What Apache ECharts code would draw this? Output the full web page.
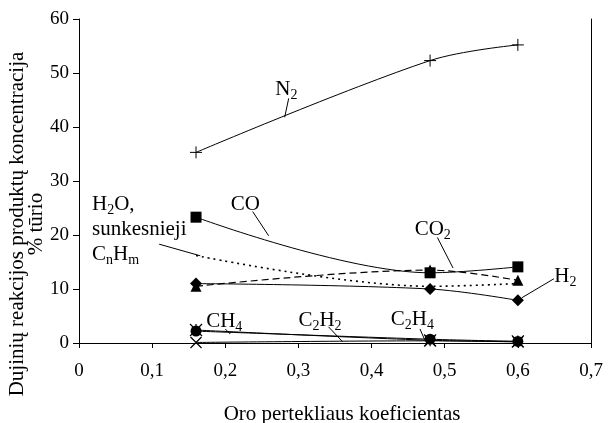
<!DOCTYPE html>
<html><head><meta charset="utf-8">
<script src="https://cdn.jsdelivr.net/npm/echarts@6/dist/echarts.min.js"></script>
<style>html,body{margin:0;padding:0;background:#fff}#c{width:609px;height:423px}</style>
</head><body><div id="c"></div>
<script>
// ---- data ----
const xValues = [0.16, 0.48, 0.6];
const n2   = [35.3, 52.3, 55.2];
const co   = [23.3, 13.0, 14.1];
const co2  = [10.5, 13.5, 11.6];
const h2   = [11.0, 10.0, 7.9];
const h2o  = [16.2, 10.5, 11.0];
const ch4  = [2.2, 0.7, 0.3];
const c2h2 = [0.1, 0.4, 0.2];
const c2h4 = [2.4, 0.5, 0.3];
const xTickLabels = ['0', '0,1', '0,2', '0,3', '0,4', '0,5', '0,6', '0,7'];
const xTitle = 'Oro pertekliaus koeficientas';
const yTitle1 = 'Dujinių reakcijos produktų koncentracija';
const yTitle2 = '% tūrio';

// annotation labels (data coordinates)
const annotations = [
  {text: '{m|N}{s|2}', at: [0.2836, 46.9], leader: [[0.2867, 45.3], [0.2812, 41.8]]},
  {text: '{m|CO}', at: [0.2274, 25.6], leader: [[0.2374, 24.35], [0.2593, 19.85]]},
  {text: '{m|H}{s|2}{m|O,}\n{m|sunkesnieji}\n{m|C}{s|n}{m|H}{s|m}', at: [0.0178, 20.96], align: 'left', leader: [[0.1096, 18.3], [0.1658, 16.15]]},
  {text: '{m|CO}{s|2}', at: [0.4836, 20.96], leader: [[0.49, 19.54], [0.5114, 13.88]]},
  {text: '{m|H}{s|2}', at: [0.665, 12.3], leader: [[0.6493, 11.9], [0.6055, 8.38]]},
  {text: '{m|CH}{s|4}', at: [0.1986, 4.0], leader: [[0.2, 2.59], [0.2068, 1.67]]},
  {text: '{m|C}{s|2}{m|H}{s|2}', at: [0.3295, 4.1], leader: [[0.3411, 3.0], [0.3603, 0.24]]},
  {text: '{m|C}{s|2}{m|H}{s|4}', at: [0.4558, 4.3], leader: [[0.4662, 2.59], [0.4726, 0.6]]}
];

const FONT = 'Liberation Serif, Times New Roman, serif';
const chart = echarts.init(document.getElementById('c'), null, {renderer: 'canvas'});

const plusSym = 'path://M0,5L10,5M5,0L5,10';
const xSym = 'path://M0,0L10,10M10,0L0,10';
const starSym = 'path://M0,0L10,10M10,0L0,10M5,0L5,10';

function pts(vals) { return xValues.map((x, i) => [x, vals[i]]); }
function line(name, vals, extra) {
  const base = {
    type: 'line', name: name, data: pts(vals), smooth: 0.35,
    symbolSize: 11, silent: true, emphasis: {disabled: true},
    lineStyle: {color: '#000', width: 1, type: 'solid'},
    itemStyle: {color: '#000', borderColor: '#000', borderWidth: 0}
  };
  const o = Object.assign({}, base, extra || {});
  if (extra && extra.lineStyle) o.lineStyle = Object.assign({}, base.lineStyle, extra.lineStyle);
  if (extra && extra.itemStyle) o.itemStyle = Object.assign({}, base.itemStyle, extra.itemStyle);
  return o;
}

const option = {
  animation: false,
  backgroundColor: '#fff',
  grid: {left: 79, right: 18, top: 19, bottom: 80, outerBoundsMode: 'none'},
  xAxis: {
    type: 'value', min: 0, max: 0.7, interval: 0.1,
    axisLine: {show: true, lineStyle: {color: '#000', width: 1}},
    axisTick: {show: true, length: 5, lineStyle: {color: '#000'}},
    splitLine: {show: false},
    axisLabel: {color: '#000', fontFamily: FONT, fontSize: 19, margin: 19,
      formatter: (v, i) => xTickLabels[Math.round(v * 10)]}
  },
  yAxis: [{
    type: 'value', min: 0, max: 60, interval: 10,
    axisLine: {show: true, lineStyle: {color: '#000', width: 1}},
    axisTick: {show: true, length: 6, lineStyle: {color: '#000'}},
    splitLine: {show: false},
    axisLabel: {color: '#000', fontFamily: FONT, fontSize: 19, margin: 10}
  }, {
    type: 'value', min: 0, max: 60, interval: 10, position: 'right',
    axisLine: {show: true, lineStyle: {color: '#000', width: 1}},
    axisTick: {show: false}, axisLabel: {show: false}, splitLine: {show: false}
  }],
  series: [
    line('C2H4', c2h4, {symbol: starSym, symbolSize: 12, itemStyle: {borderWidth: 1.2}}),
    line('C2H2', c2h2, {symbol: xSym, symbolSize: 11, itemStyle: {borderWidth: 1.2}}),
    line('CH4', ch4, {symbol: 'circle', symbolSize: 11}),
    line('H2O, sunkesnieji CnHm', h2o, {symbol: 'none', showSymbol: false, lineStyle: {type: [2, 4], width: 1.6}}),
    line('H2', h2, {symbol: 'diamond', symbolSize: 12}),
    line('CO2', co2, {symbol: 'triangle', symbolSize: 11, lineStyle: {type: [7, 4], width: 1.2}}),
    line('CO', co, {symbol: 'rect', symbolSize: 11}),
    line('N2', n2, {symbol: plusSym, symbolSize: 12, itemStyle: {borderWidth: 1}})
  ]
};
chart.setOption(option);

const rich = {
  m: {fontFamily: FONT, fontSize: 21, lineHeight: 25, color: '#000'},
  s: {fontFamily: FONT, fontSize: 14, lineHeight: 14, verticalAlign: 'bottom', color: '#000'}
};
const P = (c) => chart.convertToPixel({gridIndex: 0}, c);
const graphics = [];
annotations.forEach(a => {
  const p = P(a.at);
  graphics.push({
    type: 'text', x: p[0], y: p[1], silent: true,
    style: {text: a.text, rich: rich, fill: '#000', font: '21px ' + FONT,
      textAlign: a.align || 'center', textVerticalAlign: 'middle',
      align: a.align || 'center', verticalAlign: 'middle'}
  });
  const l1 = P(a.leader[0]), l2 = P(a.leader[1]);
  graphics.push({type: 'line', silent: true,
    shape: {x1: l1[0], y1: l1[1], x2: l2[0], y2: l2[1]},
    style: {stroke: '#000', lineWidth: 1}});
});
// axis titles
graphics.push({type: 'text', x: 342, y: 414, silent: true,
  style: {text: xTitle, fill: '#000', font: '21px ' + FONT, textAlign: 'center', textVerticalAlign: 'middle', align: 'center', verticalAlign: 'middle'}});
graphics.push({type: 'text', x: 17, y: 224, rotation: Math.PI / 2, silent: true,
  style: {text: yTitle1, fill: '#000', font: '21px ' + FONT, textAlign: 'center', textVerticalAlign: 'middle', align: 'center', verticalAlign: 'middle'}});
graphics.push({type: 'text', x: 36, y: 224, rotation: Math.PI / 2, silent: true,
  style: {text: yTitle2, fill: '#000', font: '21px ' + FONT, textAlign: 'center', textVerticalAlign: 'middle', align: 'center', verticalAlign: 'middle'}});
chart.setOption({graphic: graphics});
</script>
</body></html>
